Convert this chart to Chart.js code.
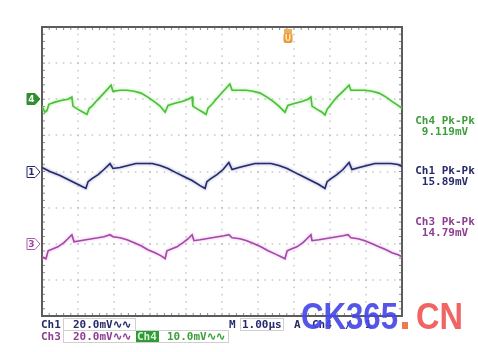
<!DOCTYPE html>
<html lang="en">
<head>
  <meta charset="UTF-8" />
  <title>Scope capture</title>
  <script src="https://cdn.jsdelivr.net/npm/chart.js"></script>
  <style>
    html, body { margin: 0; padding: 0; background: #fff; }
    #scope { position: absolute; left: 0; top: 0; }
  </style>
</head>
<body>
<canvas id="scope" width="478" height="352"></canvas>
<script>
  // time in µs, values in mV (relative to each channel's ground marker)
  const ch4Time = [0.00,0.08,0.14,0.19,0.36,0.56,0.72,0.83,0.86,1.00,1.14,1.25,1.31,1.39,1.53,1.72,1.92,1.97,2.17,2.36,2.56,2.75,2.94,3.11,3.28,3.42,3.50,3.69,3.89,4.06,4.17,4.19,4.33,4.47,4.56,4.61,4.72,4.89,5.06,5.22,5.28,5.47,5.67,5.86,6.06,6.25,6.42,6.58,6.75,6.83,7.03,7.22,7.39,7.47,7.50,7.64,7.78,7.86,7.92,8.03,8.19,8.36,8.53,8.58,8.78,8.97,9.17,9.36,9.56,9.72,9.89,10.00];
  const ch4Mv   = [-1.9,-3.6,-3.1,-1.4,-0.8,-0.3,0.0,0.6,-1.9,-2.8,-3.6,-4.2,-2.5,-1.9,-0.3,1.7,3.9,2.2,2.5,2.5,2.2,1.7,0.6,-0.6,-1.9,-3.6,-1.7,-1.1,-0.6,0.0,0.6,-1.9,-2.8,-3.6,-4.2,-2.5,-1.4,0.6,2.5,4.2,2.5,2.5,2.5,2.2,1.7,0.6,-0.6,-1.9,-3.6,-1.7,-1.1,-0.6,0.0,0.6,-1.9,-2.8,-3.6,-4.4,-2.8,-1.4,0.6,2.2,3.9,2.5,2.5,2.5,2.2,1.7,0.6,-0.6,-1.7,-2.5];

  const ch1Time = [0.00,0.22,0.50,0.78,1.06,1.22,1.28,1.39,1.56,1.72,1.89,1.97,2.17,2.39,2.61,2.83,3.06,3.28,3.50,3.72,3.94,4.17,4.39,4.53,4.58,4.69,4.86,5.03,5.19,5.28,5.47,5.69,5.92,6.14,6.36,6.58,6.81,7.03,7.25,7.47,7.69,7.86,7.92,8.03,8.19,8.36,8.53,8.61,8.81,9.03,9.25,9.47,9.69,9.89,10.00];
  const ch1Mv   = [2.2,0.0,-2.2,-5.0,-7.8,-9.4,-5.6,-3.9,-1.7,1.1,4.4,1.7,2.2,3.3,4.4,4.4,4.4,3.3,1.7,-0.6,-2.8,-5.0,-7.8,-9.4,-5.6,-3.9,-1.7,1.1,5.0,1.1,2.2,3.3,4.4,4.4,4.4,3.3,1.7,-0.6,-2.8,-5.0,-7.2,-9.4,-5.6,-3.9,-1.7,1.1,5.0,1.1,2.2,3.3,4.4,4.4,4.4,3.9,2.8];

  const ch3Time = [0.00,0.11,0.17,0.31,0.44,0.61,0.72,0.83,0.89,1.06,1.22,1.39,1.56,1.72,1.89,1.97,2.17,2.36,2.56,2.75,2.94,3.14,3.31,3.42,3.47,3.61,3.75,3.92,4.06,4.17,4.22,4.39,4.56,4.72,4.89,5.06,5.19,5.28,5.50,5.69,5.89,6.08,6.28,6.47,6.64,6.75,6.81,6.94,7.08,7.25,7.36,7.47,7.50,7.69,7.86,8.03,8.19,8.36,8.50,8.58,8.78,8.97,9.17,9.36,9.56,9.72,9.89,10.00];
  const ch3Mv   = [-7.2,-8.3,-3.9,-2.8,-1.7,0.6,2.8,5.0,1.1,1.7,2.2,2.8,3.3,3.9,5.0,3.9,3.3,2.2,0.6,-1.1,-3.3,-5.0,-6.7,-8.3,-3.9,-2.8,-1.7,0.6,2.8,5.0,1.7,2.2,2.8,3.3,3.9,4.4,5.0,3.3,2.8,1.7,0.0,-1.7,-3.9,-5.6,-7.2,-8.3,-3.9,-2.8,-1.7,0.6,2.8,5.0,1.7,2.2,2.8,3.3,3.9,4.4,5.0,3.3,2.8,1.7,0.0,-1.7,-3.3,-5.0,-6.1,-7.2];

  const chNames   = ["Ch4", "Ch1", "Ch3"];
  const voltsDiv  = [10, 20, 20];      // mV per division
  const markerDiv = [2, 0, -2];        // ground marker position, divisions
  const pkpkText  = ["9.119mV", "15.89mV", "14.79mV"];

  const traceColor = ["#4cbf3a", "#262b6a", "#a24aa6"];
  const glowColor  = ["#9fe88f", "#8f93c8", "#eaa6ec"];

  function toDivs(times, mv, i) {
    return times.map((t, k) => ({ x: t, y: markerDiv[i] + mv[k] / voltsDiv[i] }));
  }
  const series = [toDivs(ch4Time, ch4Mv, 0), toDivs(ch1Time, ch1Mv, 1), toDivs(ch3Time, ch3Mv, 2)];

  const scopeDeco = {
    id: "scopeDeco",
    beforeDatasetsDraw(chart) {
      const { ctx, chartArea: a, scales: { x, y } } = chart;
      ctx.save();
      // dotted graticule
      ctx.fillStyle = "#a9a9a9";
      for (let i = 1; i < 10; i++) {
        const px = Math.round(x.getPixelForValue(i));
        for (let j = 1; j < 40; j++) {
          const py = y.getPixelForValue(-4 + j * 0.2);
          ctx.fillRect(px - 0.5, py - 0.5, 1, 1.5);
        }
      }
      for (let j = -3; j <= 3; j++) {
        const py = Math.round(y.getPixelForValue(j));
        for (let i = 1; i < 50; i++) {
          const px = x.getPixelForValue(i * 0.2);
          ctx.fillRect(px - 0.75, py - 0.5, 1.5, 1);
        }
      }
      // border ticks
      ctx.fillStyle = "#8a8a8a";
      for (let i = 1; i < 50; i++) {
        const px = x.getPixelForValue(i * 0.2);
        ctx.fillRect(px - 0.5, a.top, 1, 3);
        ctx.fillRect(px - 0.5, a.bottom - 3, 1, 3);
      }
      for (let j = 1; j < 40; j++) {
        const py = y.getPixelForValue(-4 + j * 0.2);
        ctx.fillRect(a.left, py - 0.5, 3, 1);
        ctx.fillRect(a.right - 3, py - 0.5, 3, 1);
      }
      ctx.strokeStyle = "#5c5c5c";
      ctx.lineWidth = 2;
      ctx.strokeRect(a.left, a.top, a.right - a.left, a.bottom - a.top);
      ctx.restore();
    },
    beforeDatasetDraw(chart, args) {
      const ctx = chart.ctx;
      ctx.save();
      ctx.shadowColor = glowColor[args.index];
      ctx.shadowBlur = 3;
    },
    afterDatasetDraw(chart) {
      chart.ctx.restore();
    },
    afterDraw(chart) {
      const { ctx, chartArea: a, scales: { x, y } } = chart;
      ctx.save();
      ctx.textAlign = "center";
      ctx.textBaseline = "middle";

      // channel ground markers
      const fills = ["#2f8f2f", "#ffffff", "#ffffff"];
      const edges = ["#2f8f2f", "#262b6a", "#b05ab0"];
      const nums  = ["#ffffff", "#262b6a", "#9a4a9e"];
      ["4", "1", "3"].forEach((n, i) => {
        const py = Math.round(y.getPixelForValue(markerDiv[i]));
        ctx.beginPath();
        ctx.moveTo(27, py - 5.5);
        ctx.lineTo(35, py - 5.5);
        ctx.lineTo(40, py);
        ctx.lineTo(35, py + 5.5);
        ctx.lineTo(27, py + 5.5);
        ctx.closePath();
        ctx.fillStyle = fills[i];
        ctx.fill();
        ctx.lineWidth = 1;
        ctx.strokeStyle = edges[i];
        ctx.stroke();
        ctx.fillStyle = nums[i];
        ctx.font = "bold 9px 'DejaVu Sans'";
        ctx.fillText(n, 31.5, py + 0.5);
      });

      // trigger position marker
      const tx = 288;
      ctx.fillStyle = "#f0b060";
      ctx.fillRect(tx - 4, a.top + 2, 8, 4);
      ctx.fillStyle = "#e89a3c";
      ctx.beginPath();
      ctx.roundRect(tx - 4.5, a.top + 6, 9, 10, 2);
      ctx.fill();
      ctx.fillStyle = "#fde6b0";
      ctx.font = "bold 8px 'DejaVu Sans'";
      ctx.fillText("U", tx, a.top + 11.5);

      // Pk-Pk readouts
      ctx.font = "bold 11px 'DejaVu Sans Mono'";
      const readY = [121, 171, 222];
      const readCol = ["#3e9e3a", "#262b6a", "#8e3e92"];
      chNames.forEach((c, i) => {
        ctx.fillStyle = readCol[i];
        ctx.fillText(c + " Pk-Pk", 445, readY[i]);
        ctx.fillText(pkpkText[i], 445, readY[i] + 11);
      });

      // status line
      ctx.textAlign = "left";
      ctx.strokeStyle = "#d0d0d0";
      ctx.lineWidth = 1;
      ctx.strokeRect(63.5, 318.5, 72, 12);
      ctx.strokeRect(63.5, 330.5, 165, 12);
      ctx.strokeRect(240.5, 318.5, 43, 12);
      ctx.fillStyle = "#262b6a";
      ctx.fillText("Ch1", 41, 325);
      ctx.fillText("20.0mV\u223f\u223f", 73, 325);
      ctx.fillStyle = "#8e3e92";
      ctx.fillText("Ch3", 41, 337);
      ctx.fillText("20.0mV\u223f\u223f", 73, 337);
      ctx.fillStyle = "#2f9a3a";
      ctx.fillRect(136, 331, 23, 11);
      ctx.fillStyle = "#d8f4d0";
      ctx.fillText("Ch4", 137, 337);
      ctx.fillStyle = "#3e9e3a";
      ctx.fillText("10.0mV\u223f\u223f", 167, 337);
      ctx.fillStyle = "#262b6a";
      ctx.fillText("M", 229, 325);
      ctx.fillText("1.00\u00b5s", 242, 325);
      ctx.fillText("A", 294, 325);
      ctx.fillText("Ch4  \u2215  1", 312, 325);

      // watermark
      ctx.textBaseline = "alphabetic";
      ctx.font = "bold 34px 'Liberation Sans'";
      const w1 = ctx.measureText("CK365").width;
      ctx.save();
      ctx.translate(301, 329);
      ctx.scale(97 / w1, 1.08);
      ctx.fillStyle = "rgba(70, 72, 230, 0.92)";
      ctx.fillText("CK365", 0, 0);
      ctx.restore();
      ctx.fillStyle = "#f07a50";
      ctx.fillRect(402, 322, 6, 7);
      const w2 = ctx.measureText("CN").width;
      ctx.save();
      ctx.translate(416, 329);
      ctx.scale(47 / w2, 1.08);
      ctx.fillStyle = "rgba(240, 92, 92, 0.95)";
      ctx.fillText("CN", 0, 0);
      ctx.restore();
      ctx.restore();
    }
  };

  new Chart(document.getElementById("scope").getContext("2d"), {
    type: "line",
    data: {
      datasets: series.map((pts, i) => ({
        label: chNames[i],
        data: pts,
        borderColor: traceColor[i],
        borderWidth: 1.6,
        pointRadius: 0,
        tension: 0,
        fill: false
      }))
    },
    options: {
      responsive: false,
      animation: false,
      layout: { padding: { left: 42, top: 27, right: 76, bottom: 36 } },
      scales: {
        x: { type: "linear", min: 0, max: 10, display: false },
        y: { type: "linear", min: -4, max: 4, display: false }
      },
      plugins: { legend: { display: false }, tooltip: { enabled: false } }
    },
    plugins: [scopeDeco]
  });
</script>
</body>
</html>
